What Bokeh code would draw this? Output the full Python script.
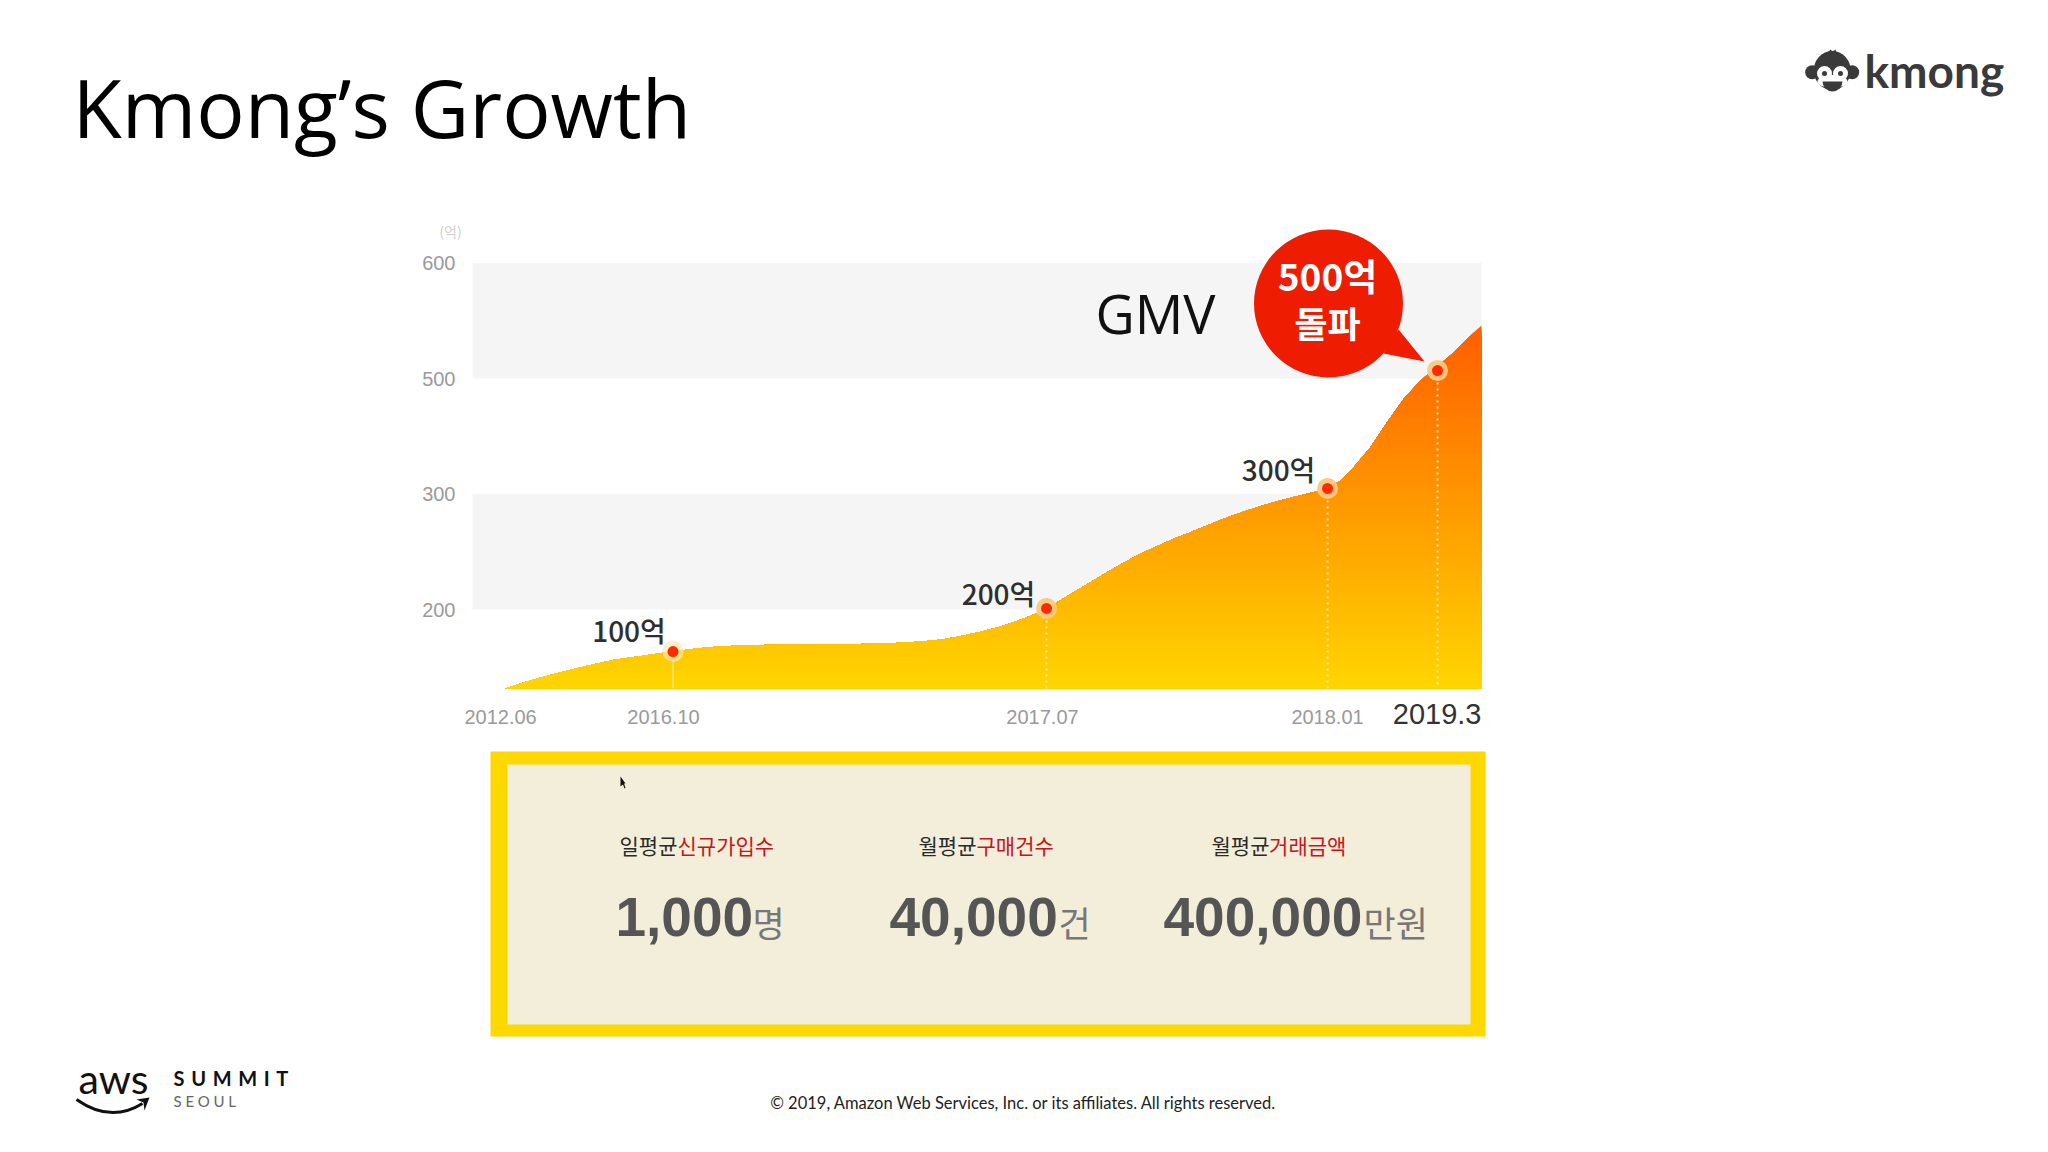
import numpy as np
from bokeh.plotting import figure
from bokeh.models import Range1d, LinearAxis, FixedTicker, Label, ColumnDataSource
from bokeh.core.properties import value
from bokeh.embed import file_html
from bokeh.resources import INLINE

# ---- chart data ----
# The picture's axes are not linear, so values are positions on them:
# y is counted in steps of the labelled ticks, x on a 0-100 run of the plot width.
y_ticks = [0, 1, 2, 3]
y_tick_labels = ["200", "300", "500", "600"]
x_ticks = [2.78, 18.93, 56.49, 84.74]
x_tick_labels = ["2012.06", "2016.10", "2017.07", "2018.01"]
x_last_tick = [95.6]
x_last_label = "2019.3"
curve_x = [3.27, 5.73, 8.37, 11.2, 14.07, 17.11, 19.87, 22.03, 24.31, 27.35, 30.38, 33.4, 36.83,
           39.84, 42.52, 44.8, 46.68, 48.58, 50.48, 52.38, 53.91, 55.4, 56.89, 57.95, 59.59, 61.25,
           62.9, 64.55, 66.2, 67.86, 69.51, 71.16, 72.81, 74.46, 76.11, 77.77, 79.42, 81.07, 82.73,
           84.77, 86.03, 87.34, 89.0, 90.65, 92.3, 93.95, 95.61, 97.26, 98.91, 100.0]
curve_y = [-0.684, -0.615, -0.552, -0.491, -0.436, -0.398, -0.364, -0.34, -0.32, -0.309, -0.305, -0.303,
           -0.30, -0.297, -0.288, -0.274, -0.257, -0.228, -0.19, -0.147, -0.101, -0.052, 0.006, 0.063,
           0.15, 0.236, 0.323, 0.404, 0.482, 0.548, 0.612, 0.669, 0.727, 0.785, 0.837, 0.886, 0.929,
           0.967, 1.002, 1.045, 1.117, 1.232, 1.405, 1.622, 1.824, 1.983, 2.104, 2.228, 2.372, 2.459]
marker_x = [19.87, 56.89, 84.74, 95.64]
marker_y = [-0.364, 0.009, 1.048, 2.069]
marker_labels = ["100억", "200억", "300억"]
label_dx = [-44, -48, -49]
label_dy = [-22, -15, -19]
band_bottom = [0, 2]
band_top = [1, 3]
baseline = -0.684
stat_heads = ["일평균", "월평균", "월평균"]
stat_names = ["신규가입수", "구매건수", "거래금액"]
stat_values = ["1,000", "40,000", "400,000"]
stat_units = ["명", "건", "만원"]

# ---- layout ----
PX_X = 10.09
PX_Y = 115.5
X0 = 472
Y0 = 609
W, H = 2040, 1144
def ux(px): return (np.asarray(px, dtype=float) - X0) / PX_X
def uy(py): return (Y0 - np.asarray(py, dtype=float)) / PX_Y

p = figure(width=W, height=H, output_backend="svg", toolbar_location=None,
           x_range=Range1d(float(ux(0)), float(ux(W))),
           y_range=Range1d(float(uy(H)), float(uy(0))),
           x_axis_location=None, y_axis_location=None, min_border=0)
p.outline_line_color = None
p.background_fill_color = "white"
p.border_fill_color = "white"
p.grid.visible = False

KR = "Noto Sans CJK KR"
EN = "Open Sans"

def txt(px, py, text, size, color, font=KR, style="normal", align="left"):
    p.add_layout(Label(x=float(ux(px)), y=float(uy(py)), text=text, text_font=font,
                       text_font_size=f"{size}px", text_color=color, text_font_style=style,
                       text_align=align, text_baseline="middle", level="overlay"))

# bands
p.quad(left=0, right=100, bottom=band_bottom, top=band_top, fill_color="#F5F5F5", line_color=None)

# gradient area: painted from the top colour down, each pass clipped lower
cx = np.array(curve_x)
cy = np.array(curve_y)
c_low = np.array([255, 214, 0])
c_high = np.array([255, 94, 0])
n = 110
levels = np.linspace(cy.max(), baseline, n, endpoint=False)
for lv in levels:
    cross = np.interp(lv, cy, cx)
    xs = np.union1d(cx, [cross])
    ys = np.minimum(np.interp(xs, cx, cy), lv)
    f = (lv - baseline) / (cy.max() - baseline)
    col = c_low + (c_high - c_low) * f
    p.varea(x=xs, y1=np.full(xs.shape, baseline), y2=ys,
            fill_color="#%02x%02x%02x" % tuple(int(round(v)) for v in col))

# drop lines
p.segment(x0=marker_x[:1], y0=marker_y[:1], x1=marker_x[:1], y1=[baseline],
          line_color="#FFE9A8", line_width=1)
drops = p.segment(x0=marker_x[1:], y0=marker_y[1:], x1=marker_x[1:], y1=[baseline] * 3,
                  line_color="#FFE9B0", line_width=2)
drops.glyph.line_dash = [2, 4]

# markers
p.scatter(marker_x[:1], marker_y[:1], size=21, color="#FFE6B0", alpha=0.7, line_color=None)
p.scatter(marker_x[1:], marker_y[1:], size=21, color="#FBC880", alpha=0.95, line_color=None)
p.scatter(marker_x, marker_y, size=11, color="#FF2A00", line_color=None)

lab = ColumnDataSource(dict(x=marker_x[:3], y=marker_y[:3], t=marker_labels, dx=label_dx, dy=label_dy))
p.text(x="x", y="y", text="t", x_offset="dx", y_offset="dy", source=lab,
       text_font=value("Noto Sans CJK KR Medium, Noto Sans CJK KR"),
       text_font_size="28px", text_color="#2E2E2E", text_align="center", text_baseline="middle")

# axes
ya = LinearAxis(ticker=FixedTicker(ticks=y_ticks), fixed_location=0,
                major_label_overrides=dict(zip(y_ticks, y_tick_labels)))
xa = LinearAxis(ticker=FixedTicker(ticks=x_ticks), fixed_location=baseline,
                major_label_overrides=dict(zip(x_ticks, x_tick_labels)))
xb = LinearAxis(ticker=FixedTicker(ticks=x_last_tick), fixed_location=baseline,
                major_label_overrides={x_last_tick[0]: x_last_label})
for a, size, col, standoff in ((ya, 20, "#9A9A9A", 11), (xa, 20, "#9A9A9A", 15), (xb, 29, "#333333", 9)):
    a.axis_line_color = None
    a.major_tick_line_color = None
    a.minor_tick_line_color = None
    a.major_label_text_font = "Liberation Sans"
    a.major_label_text_font_size = f"{size}px"
    a.major_label_text_color = col
    a.major_label_standoff = standoff
    a.major_label_orientation = "horizontal"
p.add_layout(ya, "left")
p.add_layout(xa, "below")
p.add_layout(xb, "below")
txt(450, 230, "(억)", 14, "#CFCFCF", align="center")

# callout
p.ellipse(x=[float(ux(1328))], y=[float(uy(303))], width=149 / PX_X, height=148 / PX_Y,
          fill_color="#EE1C00", line_color=None)
p.patch(x=ux([1398, 1424, 1383]), y=uy([329, 361, 353]), fill_color="#EE1C00", line_color=None)
txt(1327, 274, "500억", 37, "white", style="bold", align="center")
txt(1327, 321, "돌파", 36, "white", style="bold", align="center")
txt(1155, 312, "GMV", 54, "#111111", font=EN, align="center")

# stat panel
p.quad(left=[float(ux(490))], right=[float(ux(1485))], top=[float(uy(751))], bottom=[float(uy(1036))],
       fill_color="#FFD800", line_color=None)
p.quad(left=[float(ux(507))], right=[float(ux(1470))], top=[float(uy(764))], bottom=[float(uy(1024))],
       fill_color="#F2EED9", line_color=None)
p.patch(x=ux([620, 620, 622.5, 624, 625, 623.5, 625]), y=uy([776, 786, 784, 788, 787.5, 783, 783]),
        fill_color="#111111", line_color=None)
head_x = [619, 918, 1211]
name_x = [677, 976, 1268.6]
value_x = [615, 889, 1163]
unit_x = [752, 1058, 1363]
for hx, nx, vx, ux_, h, nm, v, un in zip(head_x, name_x, value_x, unit_x,
                                         stat_heads, stat_names, stat_values, stat_units):
    txt(hx, 844.5, h, 21, "#2A2A2A")
    txt(nx, 844.5, nm, 21, "#C8141E")
    txt(vx, 916, v, 55, "#555555", font="Liberation Sans", style="bold")
    txt(ux_, 921, un, 35, "#777777")

# slide furniture
txt(72, 106, "Kmong’s Growth", 80.5, "#000000", font=EN)
txt(1023, 1102, "© 2019, Amazon Web Services, Inc. or its affiliates. All rights reserved.", 16.5,
    "#222222", font="Lato", align="center")

# kmong logo
DK = "#3A3A3A"
p.ellipse(x=ux([1811.7, 1851.7]), y=uy([71.7, 71.7]), width=14 / PX_X, height=14 / PX_Y,
          fill_color=DK, line_color=None)
p.ellipse(x=ux([1831.7]), y=uy([70]), width=37 / PX_X, height=39 / PX_Y, fill_color=DK, line_color=None)
p.patch(x=ux([1827, 1830, 1832, 1835, 1836]), y=uy([53, 49, 51, 49, 53]), fill_color=DK, line_color=None)
p.ellipse(x=ux([1824, 1840, 1832]), y=uy([73, 73, 81]), width=[15 / PX_X, 15 / PX_X, 30 / PX_X],
          height=[15 / PX_Y, 15 / PX_Y, 13 / PX_Y], fill_color="white", line_color=None)
p.ellipse(x=ux([1824, 1840]), y=uy([73, 73]), width=5 / PX_X, height=5 / PX_Y, fill_color=DK, line_color=None)
p.wedge(x=[float(ux(1832))], y=[float(uy(81))], radius=10 / PX_X, start_angle=np.pi, end_angle=0,
        fill_color=DK, line_color=None)
txt(1864, 70, "kmong", 46, DK, font="Lato", style="bold")

# aws logo
txt(78, 1078, "aws", 41, "#111111", font="Lato")
p.quadratic(x0=[float(ux(76))], y0=[float(uy(1099))], x1=[float(ux(142))], y1=[float(uy(1103))],
            cx=[float(ux(110))], cy=[float(uy(1123))], line_color="#111111", line_width=3)
p.patch(x=ux([136, 149, 144, 143]), y=uy([1099, 1097, 1110, 1102]), fill_color="#111111", line_color=None)
txt(173, 1077, "S\u2004U\u2004M\u2004M\u2004I\u2004T", 20, "#111111", font="Lato", style="bold")
txt(173, 1100, "S\u2005E\u2005O\u2005U\u2005L", 15, "#666666", font="Lato")

open("out.html", "w").write(file_html(p, INLINE))
